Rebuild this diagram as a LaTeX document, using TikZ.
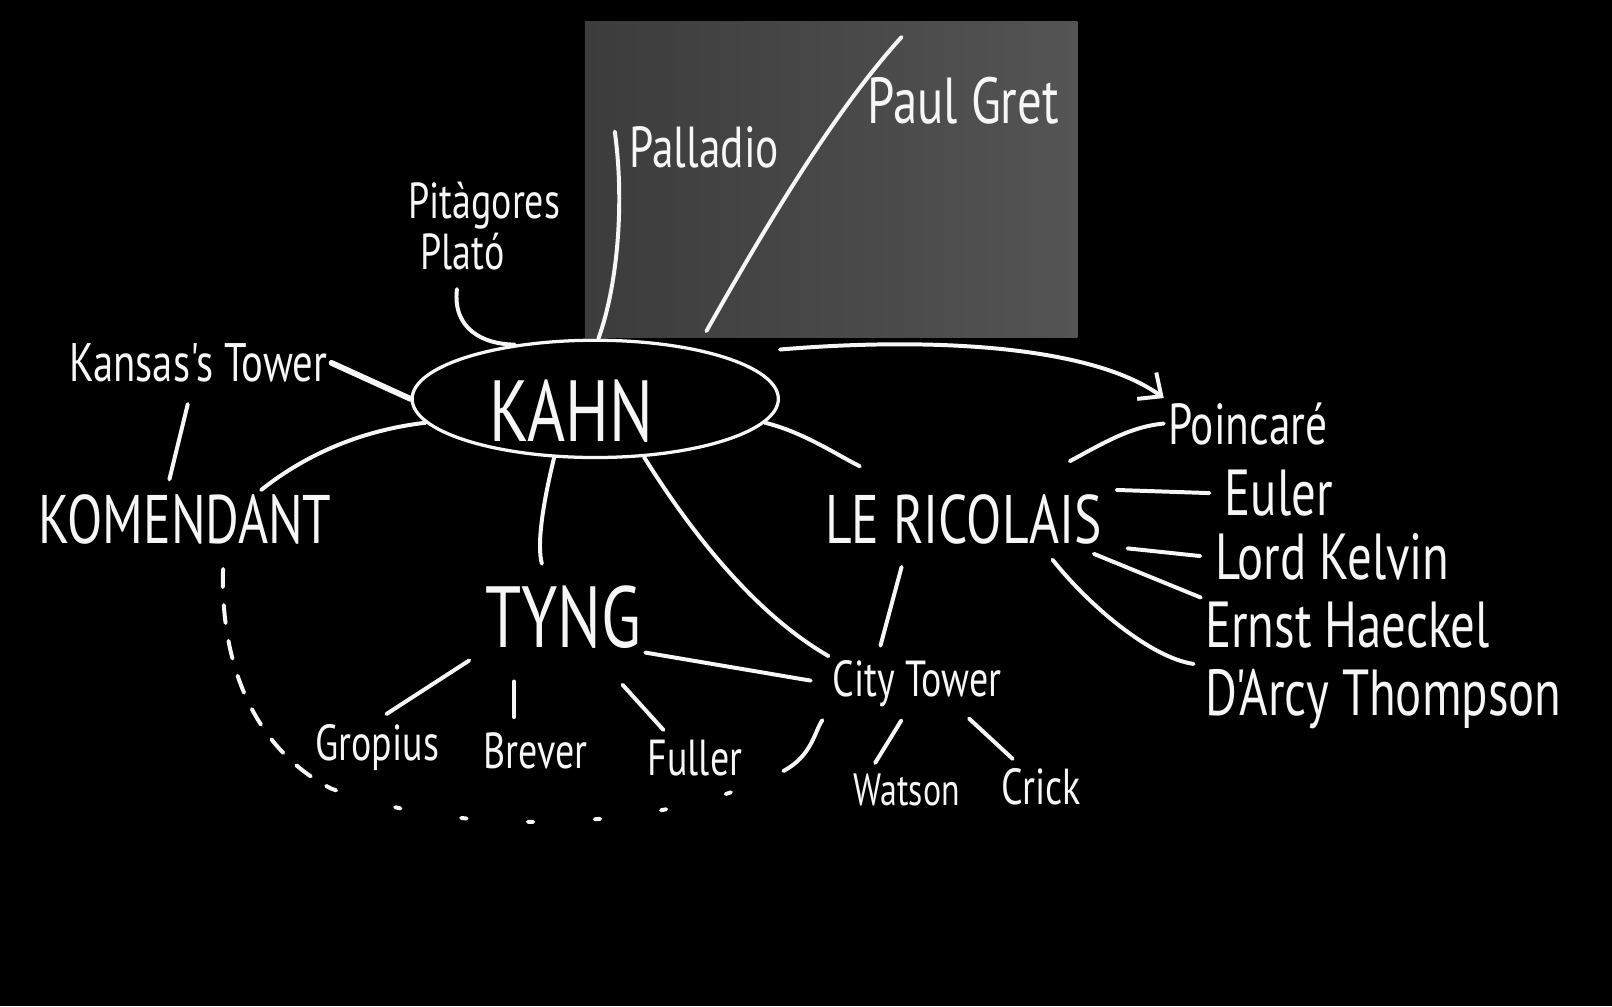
\documentclass[tikz,border=0pt]{standalone}
\usepackage{fontspec}
\newfontfamily\chalkhand[FakeStretch=0.75]{PT Sans}
\usetikzlibrary{arrows.meta,positioning,shapes.geometric}
\definecolor{kahn_chalk}{RGB}{246,246,246}
\definecolor{kahn_photo}{RGB}{84,84,84}
\definecolor{kahn_shadow}{RGB}{60,60,60}

\begin{document}
\begin{tikzpicture}[x=0.01cm, y=0.01cm,
    who/.style={text=kahn_chalk, inner sep=1pt,
                font=\chalkhand\fontsize{14}{16}\selectfont},
    tinywho/.style={who, font=\chalkhand\fontsize{12.5}{15}\selectfont},
    midwho/.style={who, font=\chalkhand\fontsize{18}{21}\selectfont},
    bigwho/.style={who, font=\chalkhand\fontsize{19}{23}\selectfont},
    hugewho/.style={who, font=\chalkhand\fontsize{24}{28}\selectfont},
    chalk/.style={draw=kahn_chalk, line width=1.1pt, line cap=round},
    arr/.style={chalk, -{Straight Barb[length=5pt, width=9pt]}},
  ]
  \useasboundingbox (0,0) rectangle (1568,-979);
  \fill[black] (0,0) rectangle (1568,-979);

  % photo pasted behind the upper names
  \shade[left color=kahn_shadow, right color=kahn_photo] (569,-21) rectangle (1048,-328);

  % the centre
  \node[draw=kahn_chalk, line width=0.9pt, ellipse, inner sep=0pt,
        minimum width=3.56cm, minimum height=1.14cm] (kahn) at (579,-388) {};
  \node[hugewho] (kahntxt) at (556,-400) {KAHN};

  \node[bigwho] (kom) at (180,-505) {KOMENDANT};
  \node[bigwho] (lericolais) at (937,-505) {LE RICOLAIS};
  \node[hugewho] (tyng) at (548,-600) {TYNG};
  \node[who] (citytower) at (892,-665) {City Tower};

  % upper left
  \node[who, font=\chalkhand\fontsize{15}{17}\selectfont] (kansas) at (193,-353) {Kansas's Tower};
  \node[who] (pitagores) at (471,-200) {Pitàgores};
  \node[who] (plato) at (450,-245) {Plató};

  % on the photo
  \node[midwho, font=\chalkhand\fontsize{16}{19}\selectfont] (palladio) at (685,-143) {Palladio};
  \node[midwho] (paulgret) at (937,-98) {Paul Gret};
  \coordinate (palltop) at (598,-128);
  \coordinate (gretend) at (877,-36);

  % Le Ricolais' column
  \node[midwho, anchor=west, font=\chalkhand\fontsize{16}{19}\selectfont] (poincare) at (1132,-412) {Poincaré};
  \node[midwho, anchor=west] (euler) at (1187,-480) {Euler};
  \node[midwho, anchor=west] (kelvin) at (1178,-542) {Lord Kelvin};
  \node[midwho, anchor=west] (haeckel) at (1168,-608) {Ernst Haeckel};
  \node[midwho, anchor=west] (thompson) at (1168,-680) {D'Arcy Thompson};

  % bottom row
  \node[who] (gropius) at (367,-727) {Gropius};
  \node[who] (brever) at (521,-730) {Brever};
  \node[who] (fuller) at (676,-737) {Fuller};
  \node[tinywho] (watson) at (882,-768) {Watson};
  \node[who] (crick) at (1013,-765) {Crick};

  % strokes on the photo
  \draw[chalk] (palltop) .. controls (608,-200) and (600,-280) .. (kahn.87);
  \draw[chalk] (gretend) .. controls (810,-110) and (745,-220) .. ([shift={(25,14)}]kahn.32);
  \draw[chalk, shorten <=4pt] (plato.-100) .. controls (440,-320) and (470,-335) .. (kahn.146);

  % into Kahn
  \draw[chalk, line width=1.6pt] (kansas.east) -- (kahn.180);
  \draw[chalk, shorten <=5pt, shorten >=3pt] (kansas.-105) -- (kom.122);
  \draw[chalk] (kom.21) .. controls (300,-440) and (355,-418) .. (kahn.188);
  \draw[arr] ([shift={(0,48)}]kahn.east) .. controls (900,-328) and (1060,-335) .. (poincare.north west);

  % out of Kahn
  \draw[chalk] (kahn.-8) .. controls (780,-420) and (810,-440) .. ([shift={(38,23)}]lericolais.north west);
  \draw[chalk, shorten >=5pt] (kahn.-125) .. controls (528,-490) and (522,-530) .. (tyng.115);
  \draw[chalk] (kahn.-50) .. controls (680,-530) and (740,-600) .. (citytower.north west);

  % Le Ricolais
  \draw[chalk] ([shift={(-35,28)}]lericolais.north east) .. controls (1075,-430) and (1100,-415) .. (poincare.west);
  \draw[chalk, shorten >=3pt] ([xshift=3pt]lericolais.north east) -- (euler.west);
  \draw[chalk, shorten >=3pt] ([xshift=6pt]lericolais.south east) -- (kelvin.west);
  \draw[chalk, shorten <=4pt] (lericolais.-14) -- (haeckel.north west);
  \draw[chalk, shorten <=4pt, shorten >=2pt] (lericolais.-20) .. controls (1060,-590) and (1120,-640) .. (thompson.north west);
  \draw[chalk, shorten >=3pt] ([shift={(-60,-18)}]lericolais.south) -- (citytower.145);

  % Tyng
  \draw[chalk, shorten >=5pt] (tyng.south east) -- (citytower.west);
  \draw[chalk, shorten <=4pt, shorten >=3pt] (tyng.south west) -- (gropius.north);
  \draw[chalk, shorten <=8pt, shorten >=3pt] ([xshift=-6pt]brever.north |- tyng.south) -- ([xshift=-6pt]brever.north);
  \draw[chalk, shorten <=12pt, shorten >=2pt] (tyng.-50) -- (fuller.140);

  % City Tower
  \draw[chalk, shorten <=3pt, shorten >=2pt] (citytower.-110) -- (watson.150);
  \draw[chalk, shorten <=3pt, shorten >=2pt] (citytower.-32) -- (crick.136);

  % dashed loop round Tyng's group
  \coordinate (loopleft) at (322,-767);
  \coordinate (loopright) at (762,-750);
  \draw[chalk, dash pattern=on 5pt off 5pt] ([shift={(37,-20)}]kom.south)
    .. controls (214,-650) and (250,-730) .. (loopleft);
  \draw[chalk, dash pattern=on 1.5pt off 17pt] (loopleft)
    .. controls (450,-815) and (640,-810) .. (loopright);
  \draw[chalk, shorten >=3pt] (loopright) .. controls (790,-735) and (792,-712) .. (citytower.south west);
\end{tikzpicture}
\end{document}
